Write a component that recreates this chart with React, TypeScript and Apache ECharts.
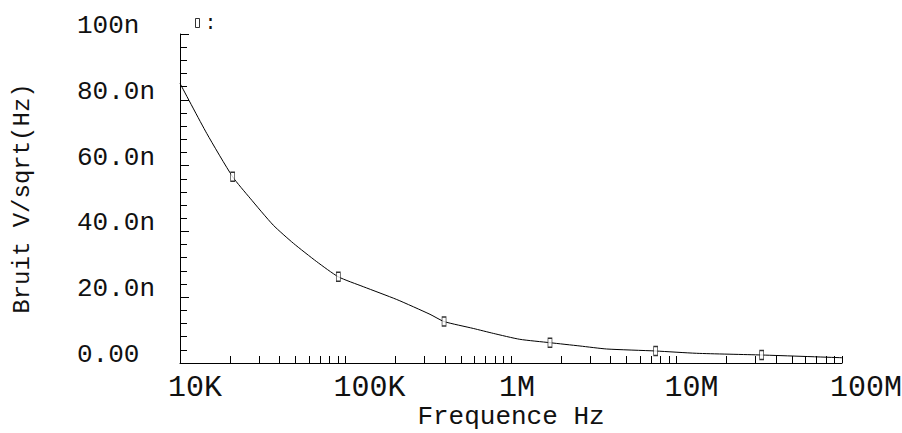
import React, { useEffect, useRef } from "react";
import * as echarts from "echarts";

// Curve (frequency in Hz, noise in nV/sqrt(Hz))
const freqHz = [1.0e4, 1.45e4, 2.08e4, 2.65e4, 3.66e4, 4.84e4, 6.7e4, 9.05e4, 1.28e5, 2.04e5, 3.24e5, 3.94e5, 5.92e5, 7.82e5, 1.13e6, 1.72e6, 2.61e6, 3.78e6, 7.48e6, 1.32e7, 3.27e7, 1.0e8];
const noiseNv = [85.0, 69.8, 56.6, 50.1, 41.9, 36.4, 30.8, 26.2, 23.2, 19.3, 14.8, 12.6, 10.5, 9.0, 7.2, 6.17, 5.17, 4.26, 3.65, 2.95, 2.43, 1.6];

// Square markers on the curve
const markerFreqHz = [2.08e4, 9.05e4, 3.94e5, 1.72e6, 7.48e6, 3.27e7];
const markerNoiseNv = [56.6, 26.2, 12.6, 6.17, 3.65, 2.43];

const xTickValues = [1e4, 1e5, 1e6, 1e7, 1e8];
const xTickLabels = ["10K", "100K", "1M", "10M", "100M"];
const xMinorMultipliers = [1, 2, 3, 4, 5, 6, 7, 8, 9];

const yTickValues = [0, 20, 40, 60, 80, 100];
const yTickLabels = ["0.00", "20.0n", "40.0n", "60.0n", "80.0n", "100n"];

const FONT = "Liberation Mono";
const INK = "#111";

export default function App() {
  const ref = useRef<HTMLDivElement>(null);
  useEffect(() => {
    const chart = echarts.init(ref.current!, null, { renderer: "svg" });
    const tickVals: number[] = [];
    for (let d = 0; d < xTickValues.length - 1; d++) {
      for (const m of xMinorMultipliers) tickVals.push(xTickValues[d] * m);
    }
    tickVals.push(xTickValues[xTickValues.length - 1]);

    chart.setOption({
      animation: false,
      backgroundColor: "#fff",
      grid: { left: 180, right: 60, top: 34, bottom: 70, containLabel: false, outerBoundsMode: "none" },
      legend: {
        left: 190,
        top: 8,
        data: [":"],
        icon: "rect",
        itemWidth: 4,
        itemHeight: 9,
        itemGap: 2,
        selectedMode: false,
        itemStyle: { color: "#fff", borderColor: "#000", borderWidth: 1 },
        textStyle: { fontFamily: FONT, fontSize: 20, color: INK, padding: [0, 0, 0, 0] },
      },
      xAxis: {
        type: "log",
        logBase: 10,
        min: 1e4,
        max: 1e8,
        name: "Frequence Hz",
        nameLocation: "middle",
        nameGap: 43,
        nameMoveOverlap: false,
        nameTextStyle: { fontFamily: FONT, fontSize: 26, lineHeight: 22, color: INK },
        axisLine: { show: true, lineStyle: { color: "#000", width: 1 } },
        axisTick: {
          show: true,
          inside: true,
          length: 7,
          customValues: tickVals,
          lineStyle: { color: "#000", width: 1 },
        },
        axisLabel: {
          show: true,
          customValues: xTickValues,
          fontFamily: FONT,
          fontSize: 30,
          lineHeight: 28,
          color: INK,
          align: "left",
          padding: [0, 0, 0, -12],
          margin: 11,
          formatter: (v: number) => {
            const i = xTickValues.findIndex((t) => Math.abs(Math.log10(t) - Math.log10(v)) < 1e-6);
            return i >= 0 ? xTickLabels[i] : "";
          },
        },
        splitLine: { show: false },
        minorTick: { show: false },
      },
      yAxis: {
        type: "value",
        min: 0,
        max: 100,
        interval: 20,
        name: "Bruit V/sqrt(Hz)",
        nameLocation: "middle",
        nameGap: 146,
        nameMoveOverlap: false,
        nameTextStyle: { fontFamily: FONT, fontSize: 24, color: INK },
        axisLine: { show: true, lineStyle: { color: "#000", width: 1 } },
        axisTick: { show: true, inside: true, length: 9, lineStyle: { color: "#000", width: 1 } },
        minorTick: { show: true, splitNumber: 5, length: 7, lineStyle: { color: "#000", width: 1 } },
        axisLabel: {
          fontFamily: FONT,
          fontSize: 26,
          color: INK,
          align: "left",
          margin: 103,
          verticalAlign: "bottom",
          lineHeight: 16,
          formatter: (v: number) => {
            const i = yTickValues.indexOf(Math.round(v));
            return i >= 0 ? yTickLabels[i] : "";
          },
        },
        splitLine: { show: false },
      },
      series: [
        {
          name: "curve",
          type: "line",
          data: freqHz.map((f, i) => [f, noiseNv[i]]),
          showSymbol: false,
          symbol: "none",
          smooth: 0.2,
          lineStyle: { color: "#000", width: 1 },
          z: 2,
        },
        {
          name: ":",
          type: "scatter",
          data: markerFreqHz.map((f, i) => [f, markerNoiseNv[i]]),
          symbol: "rect",
          symbolSize: [4, 9],
          itemStyle: { color: "#fff", borderColor: "#000", borderWidth: 1 },
          z: 3,
        },
      ],
    });
    return () => chart.dispose();
  }, []);
  return (
    <div
      ref={ref}
      style={{ position: "fixed", left: 0, top: 0, width: 902, height: 433, background: "#fff" }}
    />
  );
}
